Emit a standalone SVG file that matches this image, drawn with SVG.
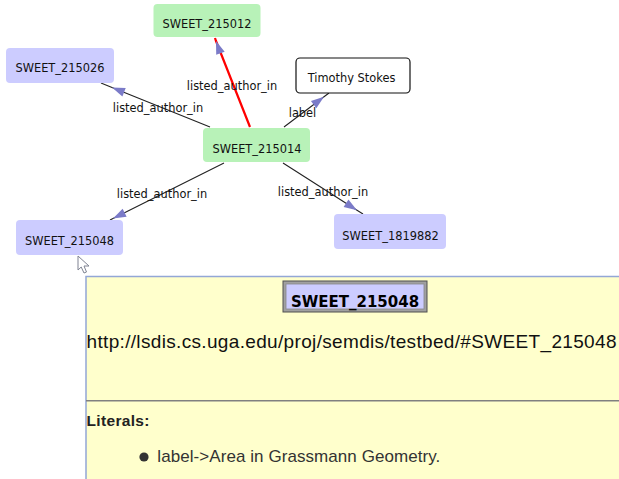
<svg xmlns="http://www.w3.org/2000/svg" width="619" height="479" viewBox="0 0 619 479">
  <style>
    .node text { font-family: "DejaVu Sans", Verdana, sans-serif; font-size: 11.4px; fill: #111; text-anchor: middle; }
    .res rect { fill: #ccccff; }
    .person rect { fill: #b8f2b8; }
    .lit rect { fill: #ffffff; stroke: #111; stroke-width: 1.2; }
    .edge { fill: none; stroke: #222; stroke-width: 1.1; marker-mid: url(#arrow); }
    .edge.sel { stroke: #ff0000; stroke-width: 2.2; }
    .elabel { font-family: "DejaVu Sans", Verdana, sans-serif; font-size: 11.4px; fill: #111; text-anchor: middle; }
    .info { font-family: "Liberation Sans", Arial, sans-serif; }
  </style>
  <defs>
    <marker id="arrow" markerUnits="userSpaceOnUse" markerWidth="16" markerHeight="12" refX="0" refY="5" orient="auto" overflow="visible">
      <path d="M0,5 L13,0.5 L13,9.5 Z" transform="rotate(180 0 5)" fill="#7b7bc8"/>
    </marker>
  </defs>

  <rect width="619" height="479" fill="#ffffff"/>

  <!-- connectors -->
  <g id="connectors">
    <path class="edge" d="M210,127 L112,87.4 L101,83"/>
    <path class="edge" d="M284,127 L324,96.8 L329,93"/>
    <path class="edge" d="M224,163 L113,218.5 L110,220"/>
    <path class="edge" d="M283,163 L357,210.2 L363,214"/>
    <path class="edge sel" d="M250,127 L216,41 L215,38"/>
    <text class="elabel" x="232" y="90">listed_author_in</text>
    <text class="elabel" x="158" y="112">listed_author_in</text>
    <text class="elabel" x="302.5" y="117">label</text>
    <text class="elabel" x="162" y="198">listed_author_in</text>
    <text class="elabel" x="323" y="196">listed_author_in</text>
  </g>

  <!-- nodes -->
  <g id="n215012" class="node person">
    <rect x="153.5" y="4" width="107" height="33" rx="4"/>
    <text x="207" y="27.5">SWEET_215012</text>
  </g>
  <g id="n215026" class="node res">
    <rect x="6" y="48" width="108" height="35" rx="4"/>
    <text x="60" y="72.3">SWEET_215026</text>
  </g>
  <g id="nTimothy" class="node lit">
    <rect x="296" y="58" width="114" height="35" rx="4"/>
    <text x="351.5" y="82">Timothy Stokes</text>
  </g>
  <g id="n215014" class="node person">
    <rect x="203" y="128" width="107" height="34" rx="4"/>
    <text x="257" y="152.7">SWEET_215014</text>
  </g>
  <g id="n215048" class="node res">
    <rect x="16" y="220" width="107" height="35" rx="4"/>
    <text x="69.5" y="245">SWEET_215048</text>
  </g>
  <g id="n1819882" class="node res">
    <rect x="334" y="214" width="112" height="35" rx="4"/>
    <text x="390.5" y="240">SWEET_1819882</text>
  </g>

  <!-- pointer -->
  <path d="M78,256 L78,270 L81.2,267 L84,273 L86.5,272 L84,266 L89,266 Z" fill="#ffffff" stroke="#6a6f80" stroke-width="1" stroke-linejoin="round" opacity="0.85"/>

  <!-- details panel -->
  <g id="details">
    <rect x="86" y="276.5" width="540" height="210" fill="#ffffcc" stroke="#93a7d6" stroke-width="1.5"/>
    <rect x="283" y="281" width="144" height="31" fill="#a0a0a0" stroke="#505050" stroke-width="1"/>
    <rect x="286" y="284" width="138" height="25" fill="#ccccff" stroke="#888888" stroke-width="0.8"/>
    <text x="355" y="306.5" font-family="'DejaVu Sans', Verdana, sans-serif" font-size="15px" font-weight="bold" fill="#000" text-anchor="middle">SWEET_215048</text>
    <text class="info" x="86.5" y="348.3" font-size="19px" fill="#111" textLength="530">http://lsdis.cs.uga.edu/proj/semdis/testbed/#SWEET_215048</text>
    <line x1="86" y1="400.8" x2="619" y2="400.8" stroke="#808080" stroke-width="1.6"/>
    <text class="info" x="86.5" y="426" font-size="15.5px" font-weight="bold" fill="#222" textLength="63">Literals:</text>
    <circle cx="144" cy="457" r="4.6" fill="#333333"/>
    <text class="info" x="157.3" y="461.5" font-size="17px" fill="#333" textLength="283">label-&gt;Area in Grassmann Geometry.</text>
  </g>
</svg>
